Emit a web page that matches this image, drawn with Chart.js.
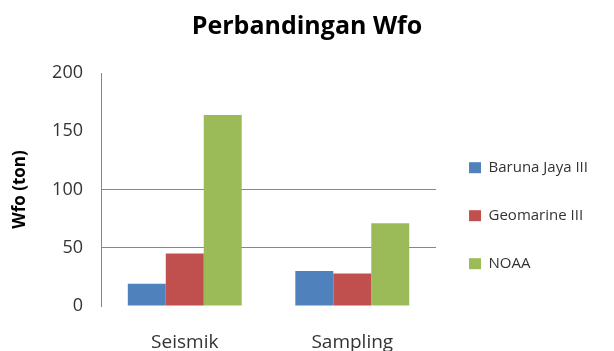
<!DOCTYPE html>
<html>
<head>
<meta charset="utf-8">
<script src="https://cdn.jsdelivr.net/npm/chart.js@4/dist/chart.umd.min.js"></script>
<style>
    html, body { margin: 0; padding: 0; background: #ffffff; overflow: hidden; }
    canvas { display: block; }
</style>
</head>
<body>
<canvas id="wfo-chart" width="614" height="351"></canvas>
<script>
const CATEGORIES = ['Seismik', 'Sampling'];
const SERIES_NAMES = ['Baruna Jaya III', 'Geomarine III', 'NOAA'];
const BARUNA_VALUES = [19, 30];
const GEOMARINE_VALUES = [45, 28];
const NOAA_VALUES = [164, 71];
const Y_TICKS = [0, 50, 100, 150, 200];
const GRID_VALUES = [50, 100];

const COLORS = ['#4f81bd', '#c0504d', '#9bbb59'];
const FONT = "'Open Sans', 'Liberation Sans', sans-serif";

// same padding on both sides keeps the title centred on the canvas
const SIDE_PAD = 16;
const PLOT_LEFT = 101;

function buildDatasets() {
    const values = [BARUNA_VALUES, GEOMARINE_VALUES, NOAA_VALUES];

    return SERIES_NAMES.map((name, i) => ({
        label: name,
        data: values[i],
        backgroundColor: COLORS[i],
        borderWidth: 0,
        categoryPercentage: 0.68,
        barPercentage: 1,
    }));
}

const chart = new Chart(document.getElementById('wfo-chart'), {
    type: 'bar',
    data: {
        labels: CATEGORIES,
        datasets: buildDatasets(),
    },
    options: {
        responsive: false,
        maintainAspectRatio: false,
        animation: false,
        devicePixelRatio: 1,
        layout: {
            padding: { left: SIDE_PAD, right: SIDE_PAD, top: 0, bottom: 0 },
        },
        plugins: {
            title: {
                display: true,
                text: 'Perbandingan Wfo',
                color: '#000000',
                font: { family: FONT, size: 25, weight: 'bold' },
                padding: { top: 12, bottom: 31 },
            },
            legend: {
                display: true,
                position: 'right',
                align: 'center',
                fullSize: false,
                maxWidth: 180,
                // empty title only pushes the entries down to where they sit in the original
                title: {
                    display: true,
                    text: '',
                    font: { family: FONT, size: 12 },
                    padding: { top: 0, bottom: 38 },
                },
                labels: {
                    color: '#333333',
                    font: { family: FONT, size: 15 },
                    boxWidth: 12,
                    boxHeight: 11,
                    padding: 33,
                },
            },
            tooltip: { enabled: false },
        },
        scales: {
            x: {
                afterFit(scale) {
                    scale.height = 45;
                },
                grid: { display: false, drawTicks: false },
                border: { display: false },
                ticks: {
                    color: '#333333',
                    font: { family: FONT, size: 19 },
                    padding: 25,
                },
            },
            y: {
                min: 0,
                max: 200,
                afterFit(scale) {
                    scale.width = PLOT_LEFT - SIDE_PAD;
                },
                afterBuildTicks(scale) {
                    scale.ticks = Y_TICKS.map((value) => ({ value }));
                },
                grid: {
                    drawTicks: false,
                    lineWidth: 1,
                    color: (ctx) => (GRID_VALUES.includes(ctx.tick?.value) ? '#868686' : 'rgba(0,0,0,0)'),
                },
                border: { display: true, color: '#868686', width: 1 },
                title: {
                    display: true,
                    text: 'Wfo (ton)',
                    color: '#000000',
                    font: { family: FONT, size: 17, weight: 'bold' },
                    padding: { top: 10 - SIDE_PAD, bottom: 0 },
                },
                ticks: {
                    color: '#333333',
                    font: { family: FONT, size: 18 },
                    padding: 18,
                },
            },
        },
    },
});
</script>
</body>
</html>
